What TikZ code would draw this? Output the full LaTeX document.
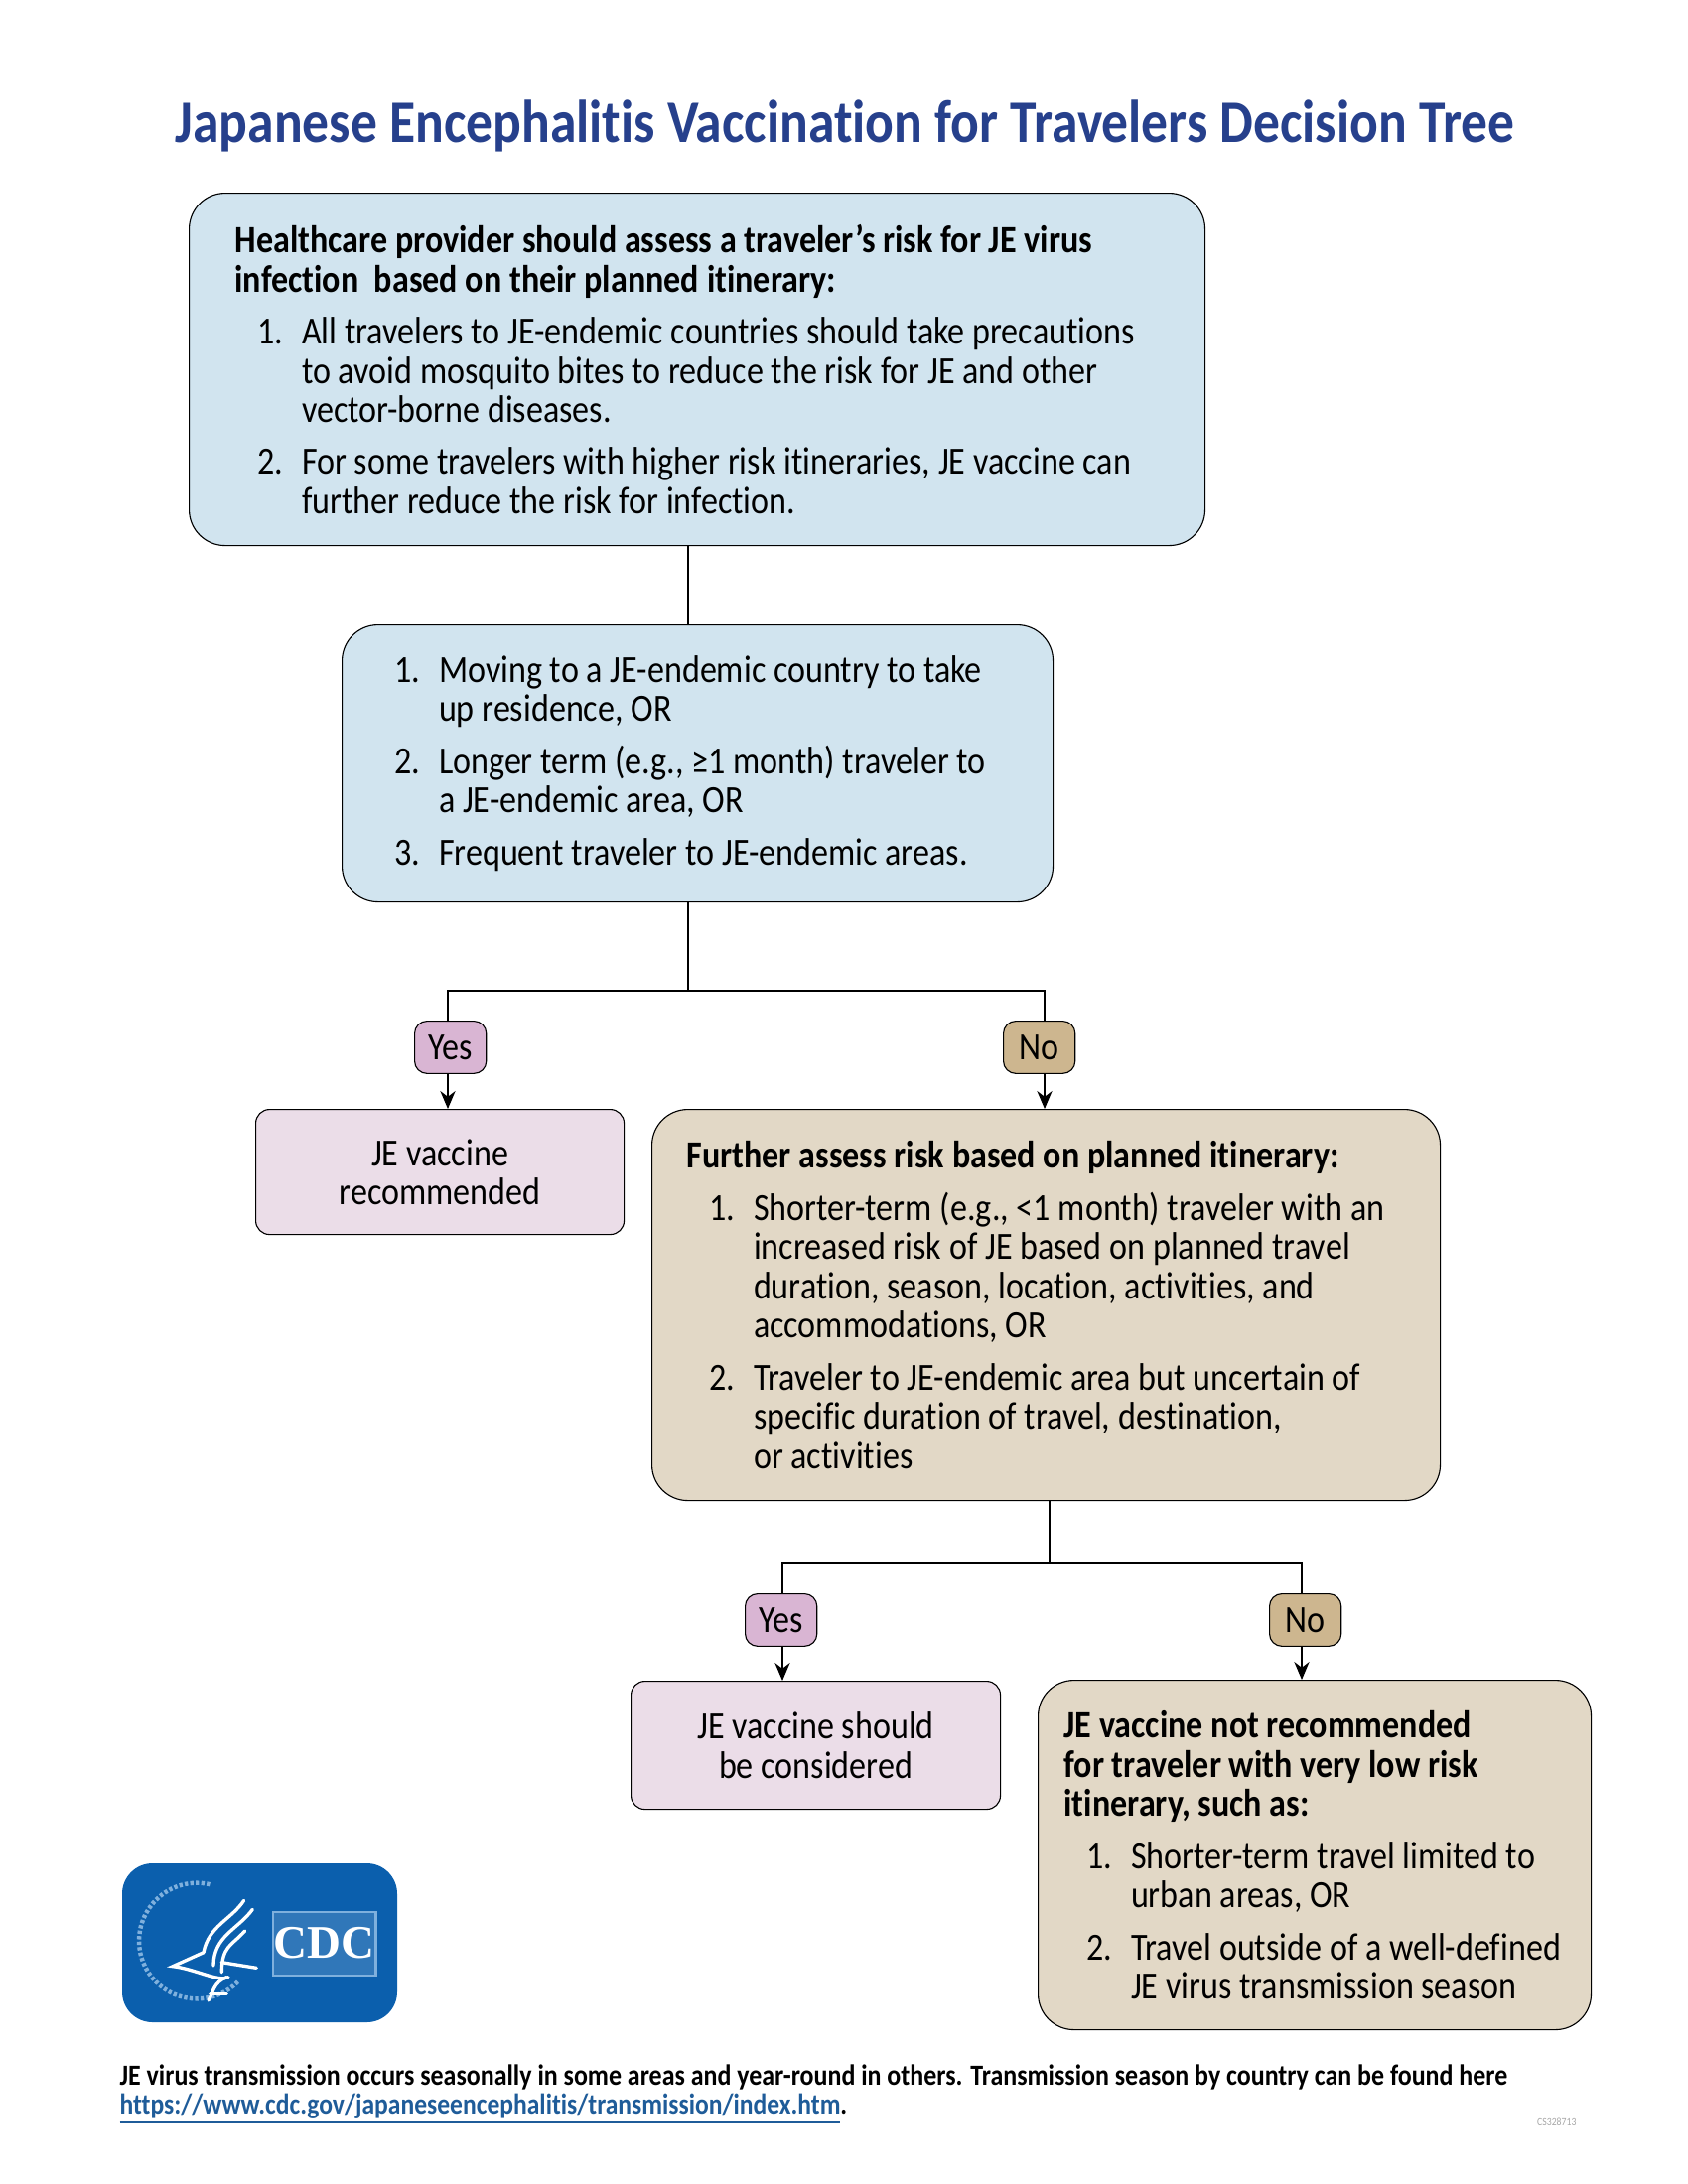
\documentclass[tikz,border=0pt]{standalone}
\usepackage{fontspec}
\setmainfont[FakeStretch=0.88,Ligatures=NoCommon]{Carlito}
\newfontfamily\logofont{Liberation Serif}
\usetikzlibrary{arrows.meta}
\definecolor{titleblue}{HTML}{26408C}
\definecolor{blueback}{HTML}{D1E4EF}
\definecolor{pinkback}{HTML}{EBDDE8}
\definecolor{tanback}{HTML}{E2D8C6}
\definecolor{yesback}{HTML}{D9B5D3}
\definecolor{noback}{HTML}{CDB68F}
\definecolor{logoblue}{HTML}{0B5FAD}
\definecolor{logolight}{HTML}{7FB0DD}
\definecolor{linkblue}{HTML}{1F5C99}
\newlength\itemgap
\setlength\itemgap{4.7bp}
\newcommand{\itm}[1]{\hspace*{8.3bp}\makebox[16bp][l]{#1}}
\newcommand{\cnt}{\hspace*{24.3bp}}
\tikzset{
  box/.style n args={3}{draw, rounded corners=13bp, line width=0.4bp, anchor=north west,
    font=\fontsize{14}{14.26}\selectfont, align=flush left, inner ysep=0pt,
    minimum width=#1*0.36bp, minimum height=#2*0.36bp,
    inner xsep=#3*0.36bp, text width=(#1-2*#3)*0.36bp},
  answer/.style={draw, rounded corners=4.5bp, line width=0.4bp, anchor=north west,
    font=\fontsize{14}{14.26}\selectfont, inner sep=0pt,
    minimum width=26bp, minimum height=19bp},
  link/.style={line width=0.4bp},
  tip/.style={line width=0.4bp, -{Stealth[length=6.5bp,width=5.5bp]}}
}
\begin{document}
\begin{tikzpicture}[x=0.36bp,y=-0.36bp]
\useasboundingbox (0,0) rectangle (1700,2200);
\node (title) [anchor=base, text=titleblue, font=\fontsize{22}{28}\selectfont\bfseries] at (851,143)
  {Japanese Encephalitis Vaccination for Travelers Decision Tree};

\node (risk) [box={1023}{355}{46}, fill=blueback] at (190,194)
  {\textbf{Healthcare provider should assess a traveler’s risk for JE virus}\\
   \textbf{infection\ \ based on their planned itinerary:}\\[\itemgap]
   \itm{1.}All travelers to JE-endemic countries should take precautions\\
   \cnt to avoid mosquito bites to reduce the risk for JE and other\\
   \cnt vector-borne diseases.\\[\itemgap]
   \itm{2.}For some travelers with higher risk itineraries, JE vaccine can\\
   \cnt further reduce the risk for infection.};
\node (longterm) [box={716}{279}{30}, fill=blueback] at (344,629)
  {\itm{1.}Moving to a JE-endemic country to take\\
   \cnt up residence, OR\\[\itemgap]
   \itm{2.}Longer term (e.g., ≥1 month) traveler to\\
   \cnt a JE-endemic area, OR\\[\itemgap]
   \itm{3.}Frequent traveler to JE-endemic areas.};

\coordinate (trunka) at (693,998);
\coordinate (dropa) at (451,998);
\coordinate (dropb) at (1052,998);
\node (yesa) [answer, fill=yesback] at (417,1028) {Yes};
\node (noa) [answer, fill=noback] at (1010,1028) {No};
\node (recommended) [box={371}{126}{10}, fill=pinkback, align=flush center, rounded corners=5bp] at (257,1117)
  {JE vaccine\\recommended};
\node (further) [box={794}{394}{35}, fill=tanback] at (656,1117)
  {\textbf{Further assess risk based on planned itinerary:}\\[\itemgap]
   \itm{1.}Shorter-term (e.g., <1 month) traveler with an\\
   \cnt increased risk of JE based on planned travel\\
   \cnt duration, season, location, activities, and\\
   \cnt accommodations, OR\\[\itemgap]
   \itm{2.}Traveler to JE-endemic area but uncertain of\\
   \cnt specific duration of travel, destination,\\
   \cnt or activities};

\coordinate (trunkb) at (1057,1574);
\coordinate (dropc) at (788,1574);
\coordinate (dropd) at (1311,1574);
\node (yesb) [answer, fill=yesback] at (750,1605) {Yes};
\node (nob) [answer, fill=noback] at (1278,1605) {No};
\node (considered) [box={372}{129}{10}, fill=pinkback, align=flush center, rounded corners=5bp] at (635,1693)
  {JE vaccine should\\be considered};
\node (notrec) [box={557}{352}{26}, fill=tanback] at (1045,1692)
  {\textbf{JE vaccine not recommended}\\
   \textbf{for traveler with very low risk}\\
   \textbf{itinerary, such as:}\\[\itemgap]
   \itm{1.}Shorter-term travel limited to\\
   \cnt urban areas, OR\\[\itemgap]
   \itm{2.}Travel outside of a well-defined\\
   \cnt JE virus transmission season};

\draw [link] (risk.south -| trunka) -- (longterm.north -| trunka);
\draw [link] (longterm.south -| trunka) -- (trunka);
\draw [link] (yesa.north -| dropa) |- (dropb) -- (noa.north -| dropb);
\draw [tip] (yesa.south -| dropa) -- (recommended.north -| dropa);
\draw [tip] (noa.south -| dropb) -- (further.north -| dropb);
\draw [link] (further.south -| trunkb) -- (trunkb);
\draw [link] (yesb.north -| dropc) |- (dropd) -- (nob.north -| dropd);
\draw [tip] (yesb.south -| dropc) -- (considered.north -| dropc);
\draw [tip] (nob.south -| dropd) -- (notrec.north -| dropd);

\fill [logoblue, rounded corners=11bp] (123,1877) rectangle (400,2037);
\begin{scope}[shift={(100,1820)},x=0.12bp,y=-0.12bp]
\draw [logolight, line width=1.6bp, dash pattern=on 1.2bp off 0.8bp]
  (295,405) ++(45:175) arc (45:285:175);
\draw [white, line width=1.2bp, line cap=round] (437,283) .. controls (400,340) and (330,360) .. (315,440);
\draw [white, line width=1.2bp, line cap=round] (463,310) .. controls (420,370) and (345,390) .. (345,480);
\draw [white, line width=1.2bp, line cap=round] (440,375) .. controls (400,420) and (370,420) .. (370,500);
\draw [white, line width=1.2bp, line cap=round] (315,440) -- (222,482) .. controls (290,490) and (360,530) .. (390,515);
\draw [white, line width=1.2bp, line cap=round] (370,470) -- (475,487);
\draw [white, line width=1.2bp, line cap=round] (385,515) .. controls (345,530) and (345,560) .. (330,585);
\draw [white, line width=1.2bp, line cap=round] (385,565) -- (335,565);
\draw [logolight, fill=logoblue!85!white, line width=1bp] (525,318) rectangle (835,510);
\node (cdc) [white, inner sep=0pt, font=\fontsize{17}{18}\selectfont\logofont\bfseries] at (680,410) {CDC};
\end{scope}

\node (footnote) [anchor=north west, inner sep=0pt, align=left, font=\fontsize{10.65}{10.44}\selectfont\bfseries] at (120,2079)
  {JE virus transmission occurs seasonally in some areas and year-round in others. Transmission season by country can be found here\\
   \fontsize{10.5}{10.44}\selectfont\textcolor{linkblue}{\underline{https://www.cdc.gov/japaneseencephalitis/transmission/index.htm}}.};
\node (code) [anchor=base east, inner sep=0pt, text=black!35, font=\fontsize{4}{5}\selectfont] at (1588,2141) {CS328713};
\end{tikzpicture}
\end{document}
